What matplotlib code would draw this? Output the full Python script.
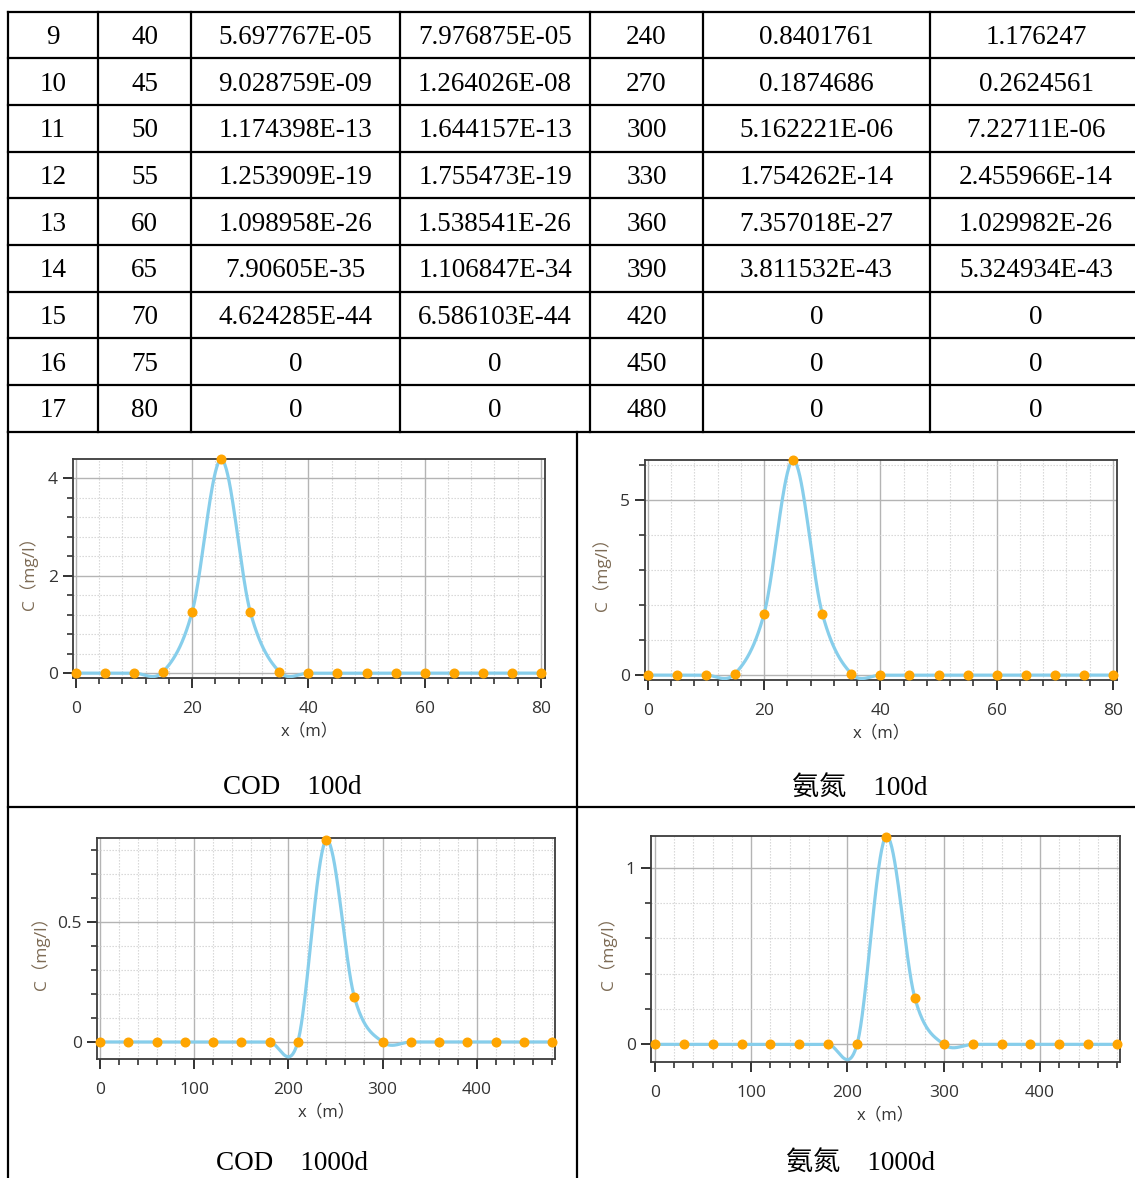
import numpy as np
import matplotlib
matplotlib.use("Agg")
import matplotlib.pyplot as plt
from matplotlib.lines import Line2D
from matplotlib.ticker import MultipleLocator

# ---------------- data ----------------
x_100d = [0, 5, 10, 15, 20, 25, 30, 35, 40, 45, 50, 55, 60, 65, 70, 75, 80]
cod_100d = [1.174398e-13, 9.028759e-09, 5.697767e-05, 0.0295, 1.255, 4.38, 1.255, 0.0295,
            5.697767e-05, 9.028759e-09, 1.174398e-13, 1.253909e-19, 1.098958e-26,
            7.90605e-35, 4.624285e-44, 0, 0]
nh_100d = [1.644157e-13, 1.264026e-08, 7.976875e-05, 0.0413, 1.757, 6.132, 1.757, 0.0413,
           7.976875e-05, 1.264026e-08, 1.644157e-13, 1.755473e-19, 1.538541e-26,
           1.106847e-34, 6.586103e-44, 0, 0]
x_1000d = [0, 30, 60, 90, 120, 150, 180, 210, 240, 270, 300, 330, 360, 390, 420, 450, 480]
cod_1000d = [0, 0, 0, 0, 0, 0, 3.2e-11, 4.7e-04, 0.8401761, 0.1874686, 5.162221e-06,
             1.754262e-14, 7.357018e-27, 3.811532e-43, 0, 0, 0]
nh_1000d = [0, 0, 0, 0, 0, 0, 4.5e-11, 6.6e-04, 1.176247, 0.2624561, 7.22711e-06,
            2.455966e-14, 1.029982e-26, 5.324934e-43, 0, 0, 0]
row_index = list(range(1, 18))
table_first_row = 9  # the visible part of the table starts at row 9

captions = ["COD\u3000100d", "氨氮\u3000100d", "COD\u30001000d", "氨氮\u30001000d"]
xlabel = "x\uff08m\uff09"
ylabel = "C\uff08mg/l\uff09"

# ---------------- helpers ----------------
W, H = 1135, 1178
fig = plt.figure(figsize=(W / 100, H / 100), dpi=100)


def fx(x):
    return x / W


def fy(y):
    return 1 - y / H


def hline(y, x0, x1, lw=1.6):
    fig.add_artist(Line2D([fx(x0), fx(x1)], [fy(y), fy(y)], transform=fig.transFigure,
                          color="black", lw=lw, solid_capstyle="projecting"))


def vline(x, y0, y1, lw=1.6):
    fig.add_artist(Line2D([fx(x), fx(x)], [fy(y0), fy(y1)], transform=fig.transFigure,
                          color="black", lw=lw, solid_capstyle="projecting"))


def g7(v):
    if v == 0:
        return "0"
    s = f"{v:.6e}"
    mant, ex = s.split("e")
    e = int(ex)
    if -5 < e < 7:
        t = f"{v:.{max(6 - e, 0)}f}"
        if "." in t:
            t = t.rstrip("0").rstrip(".")
        return t
    mant = mant.rstrip("0").rstrip(".")
    sign = "-" if e < 0 else "+"
    return f"{mant}E{sign}{abs(e):02d}"


def catmull_rom(x, y, n=40):
    x = np.asarray(x, float)
    y = np.asarray(y, float)
    m = np.zeros_like(y)
    m[1:-1] = (y[2:] - y[:-2]) / (x[2:] - x[:-2])
    m[0] = (y[1] - y[0]) / (x[1] - x[0])
    m[-1] = (y[-1] - y[-2]) / (x[-1] - x[-2])
    xs, ys = [], []
    for i in range(len(x) - 1):
        h = x[i + 1] - x[i]
        t = np.linspace(0, 1, n, endpoint=(i == len(x) - 2))
        h00 = 2 * t**3 - 3 * t**2 + 1
        h10 = t**3 - 2 * t**2 + t
        h01 = -2 * t**3 + 3 * t**2
        h11 = t**3 - t**2
        xs.append(x[i] + t * h)
        ys.append(h00 * y[i] + h10 * h * m[i] + h01 * y[i + 1] + h11 * h * m[i + 1])
    return np.concatenate(xs), np.concatenate(ys)


# ---------------- table ----------------
serif = ["Liberation Serif", "Noto Sans CJK SC"]
row_y = [11.7, 58.3, 105, 151.7, 198.3, 245, 291.7, 338.3, 385, 431.7]
col_x = [8, 98, 191, 400, 590, 703, 930, 1142]
for y in row_y:
    hline(y, 8, 1135)
for x in col_x[:-1]:
    vline(x, row_y[0], row_y[-1])
vline(8, row_y[-1], H)
vline(577, row_y[-1], H)
hline(807, 8, 1135)

start = table_first_row - 1
columns = [
    [str(v) for v in row_index[start:]],
    [str(v) for v in x_100d[start:]],
    [g7(v) for v in cod_100d[start:]],
    [g7(v) for v in nh_100d[start:]],
    [str(v) for v in x_1000d[start:]],
    [g7(v) for v in cod_1000d[start:]],
    [g7(v) for v in nh_1000d[start:]],
]
for c, col in enumerate(columns):
    cx = (col_x[c] + col_x[c + 1]) / 2
    for r, txt in enumerate(col):
        cy = (row_y[r] + row_y[r + 1]) / 2 + 2.5
        fig.text(fx(cx), fy(cy), txt, ha="center", va="center", fontsize=19.5,
                 family=serif, color="black")

# ---------------- charts ----------------
sans = ["Open Sans", "Noto Sans CJK SC"]
charts = [
    dict(box=(73, 459, 545, 678), x=x_100d, y=cod_100d, xlim=(-0.5, 80.7), ylim=(-0.1, 4.39),
         xmaj=20, xmin=4, ymaj=2, ymin=0.4, ylx=35, cap=(292, 788)),
    dict(box=(645, 460, 1117, 680), x=x_100d, y=nh_100d, xlim=(-0.5, 80.7), ylim=(-0.14, 6.14),
         xmaj=20, xmin=4, ymaj=5, ymin=1, ylx=34, cap=(860, 788)),
    dict(box=(97, 838, 555, 1059), x=x_1000d, y=cod_1000d, xlim=(-3.2, 483), ylim=(-0.071, 0.85),
         xmaj=100, xmin=20, ymaj=0.5, ymin=0.1, ylx=47, cap=(292, 1163)),
    dict(box=(651, 836, 1120, 1062), x=x_1000d, y=nh_1000d, xlim=(-4, 483), ylim=(-0.10, 1.18),
         xmaj=100, xmin=20, ymaj=1, ymin=0.2, ylx=34, cap=(860, 1163)),
]

for ch, cap in zip(charts, captions):
    l, t, r, b = ch["box"]
    ax = fig.add_axes([fx(l), fy(b), (r - l) / W, (b - t) / H])
    ax.set_xlim(*ch["xlim"])
    ax.set_ylim(*ch["ylim"])
    ax.xaxis.set_major_locator(MultipleLocator(ch["xmaj"]))
    ax.xaxis.set_minor_locator(MultipleLocator(ch["xmin"]))
    ax.yaxis.set_major_locator(MultipleLocator(ch["ymaj"]))
    ax.yaxis.set_minor_locator(MultipleLocator(ch["ymin"]))
    ax.yaxis.set_major_formatter(matplotlib.ticker.FuncFormatter(lambda v, p: f"{v:g}"))
    ax.grid(which="major", color="#b4b4b4", lw=1.0, ls="-")
    ax.grid(which="minor", color="#d2d2d2", lw=0.8, ls=(0, (1.2, 1.5)))
    ax.set_axisbelow(True)
    for s in ax.spines.values():
        s.set_color("#3c3c3c")
        s.set_linewidth(1.3)
    ax.tick_params(which="major", direction="out", length=7, width=1.3, color="#222222",
                   labelsize=12.5, labelcolor="#333333")
    ax.tick_params(axis="x", which="major", pad=9.5)
    ax.tick_params(axis="y", which="major", pad=4)
    ax.tick_params(which="minor", direction="out", length=4.5, width=1.1, color="#222222")
    for lab in ax.get_xticklabels() + ax.get_yticklabels():
        lab.set_family(sans)

    sx, sy = catmull_rom(ch["x"], ch["y"])
    ax.plot(sx, sy, color="#87CEEB", lw=2.3, zorder=3, solid_capstyle="round")
    ax.plot(ch["x"], ch["y"], ls="none", marker="o", ms=6.2, color="#FFA500",
            mec="#FFA500", zorder=4, clip_on=False)

    ax.set_xlabel(xlabel, family=sans, fontsize=12, color="#333333", labelpad=5)
    ax.set_ylabel(ylabel, family=sans, fontsize=12.5, color="#7d6b55")
    ax.yaxis.set_label_coords(-ch["ylx"] / (r - l), 0.5)

    cx, cy = ch["cap"]
    fig.text(fx(cx), fy(cy), cap, ha="center", va="center", fontsize=19.5, family=serif,
             color="black")

fig.savefig("out.png", dpi=100)
